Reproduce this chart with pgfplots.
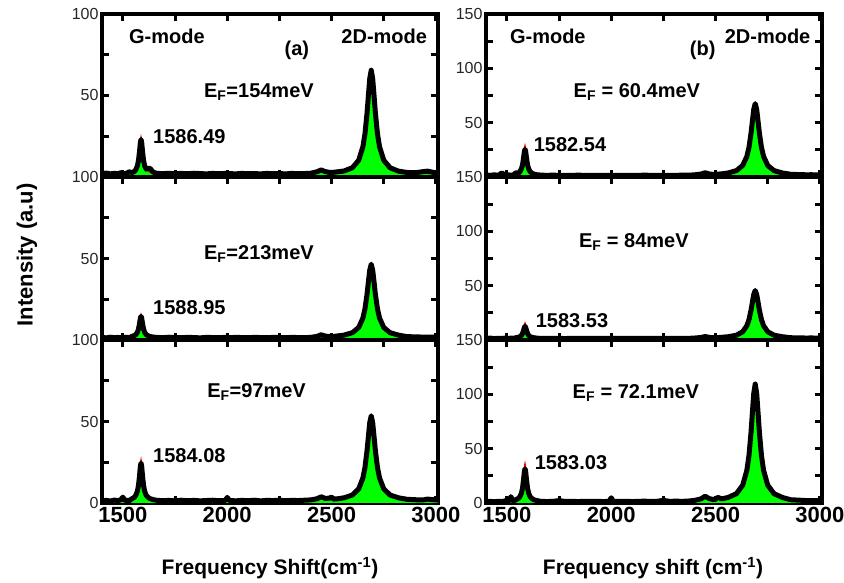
\documentclass[border=0pt]{standalone}
\usepackage{fontspec}
\setmainfont{Liberation Sans}
\usepackage{pgfplots}
\pgfplotsset{compat=1.18}
\usepackage{pgfplotstable}

% measured spectra (a1..a3 left column top->bottom, b1..b3 right column)
\pgfplotstableread{
x a1 a2 a3 b1 b2 b3
1400 2.1 1.6 1.3 1.8 1.4 1.2
1420 2.4 1.3 1.6 1.5 1.7 1.5
1440 1.9 1.7 1.2 2.0 1.3 1.1
1460 2.3 1.4 1.8 1.6 1.6 1.6
1476 2.0 1.6 1.4 3.8 1.4 1.3
1490 2.6 1.3 2.0 1.7 1.7 1.9
1500 2.2 1.8 3.6 1.5 1.5 1.6
1510 2.0 1.5 1.5 1.9 1.4 2.0
1519 2.4 1.6 1.7 1.6 1.8 5.8
1530 3.2 1.4 1.4 1.8 1.5 1.8
1543 2.7 2.2 2.6 3.9 2.1 3.0
1555 3.4 2.7 3.5 3.6 2.5 4.2
1562 4.5 3.3 4.7 4.8 3.0 5.6
1570 7.0 4.8 7.4 7.7 4.3 9.2
1575 10.3 6.8 10.9 11.3 6.0 13.8
1580 15.9 10.2 16.9 17.6 8.9 21.6
1584 21.3 13.5 22.7 23.6 11.6 29.1
1587 23.0 14.5 24.5 25.5 12.5 31.5
1590 21.3 13.5 22.7 23.6 11.6 29.1
1594 15.9 10.2 16.9 17.6 8.9 21.6
1599 10.3 6.8 10.9 11.3 6.0 13.8
1604 7.0 4.8 7.4 7.7 4.3 9.2
1612 4.8 3.3 4.7 4.8 3.0 5.6
1624 5.5 2.4 3.1 3.1 2.3 3.5
1632 5.0 2.1 2.6 2.6 2.0 2.8
1645 3.0 1.8 2.1 2.0 1.7 2.2
1660 2.3 1.6 1.7 1.8 1.5 1.6
1690 2.0 1.4 1.4 1.5 1.6 1.3
1720 2.3 1.7 1.6 1.7 1.4 1.5
1750 1.9 1.5 1.3 1.5 1.5 2.2
1780 2.2 1.4 1.7 1.6 1.3 1.4
1810 2.0 1.6 1.4 1.4 1.6 1.6
1840 2.3 1.5 1.6 1.7 1.5 1.3
1870 2.1 1.3 1.3 1.5 1.4 1.5
1900 1.9 1.6 1.5 1.6 1.6 1.4
1930 2.2 1.5 1.7 1.4 1.5 1.6
1960 2.0 1.4 1.4 1.6 1.4 1.3
1990 2.2 1.6 1.5 1.5 1.6 1.5
2000 2.0 1.5 3.4 1.7 1.5 4.8
2010 2.1 1.4 1.6 1.5 1.4 1.6
2040 1.9 1.6 1.3 1.6 1.6 1.4
2070 2.2 1.5 1.6 1.4 1.5 1.6
2100 2.0 1.4 1.4 1.6 1.4 1.3
2130 2.1 1.6 1.7 1.5 1.6 1.5
2160 1.9 1.5 1.3 1.7 1.5 1.7
2190 2.2 1.4 1.6 1.5 1.4 1.4
2220 2.0 1.6 1.5 1.6 1.5 1.6
2250 2.1 1.5 1.7 1.4 1.6 2.4
2280 1.9 1.4 1.4 1.6 1.4 1.5
2310 2.2 1.6 1.6 1.5 1.5 1.7
2340 2.0 1.5 1.5 1.7 1.6 1.5
2370 2.1 1.4 1.7 1.6 1.5 1.8
2400 2.3 1.6 1.9 2.0 1.8 2.4
2430 3.2 2.2 2.6 2.7 2.3 3.8
2450 4.3 3.2 3.8 3.9 3.2 6.2
2470 3.3 2.4 2.8 2.8 2.4 4.0
2490 2.8 2.1 3.0 2.4 2.1 3.2
2500 2.9 2.2 3.6 2.6 2.2 3.4
2510 2.9 2.2 2.4 2.6 2.2 5.2
2530 3.2 2.5 2.6 2.9 2.5 3.8
2560 3.7 3.0 3.2 3.7 3.0 5.1
2600 5.7 4.5 4.9 5.9 4.4 8.6
2630 10.3 7.7 8.7 10.6 7.6 16.4
2650 18.5 13.4 15.3 19.0 13.2 30.1
2660 26.5 19.1 21.8 27.2 18.7 43.6
2670 39.3 28.1 32.2 40.4 27.5 65.2
2677 50.8 36.2 41.5 52.3 35.4 84.7
2683 60.4 42.9 49.3 62.2 42.0 100.9
2690 65.5 46.5 53.5 67.5 45.5 109.5
2697 60.4 42.9 49.3 62.2 42.0 100.9
2703 50.8 36.2 41.5 52.3 35.4 84.7
2710 39.3 28.1 32.2 40.4 27.5 65.2
2720 26.5 19.1 21.8 27.2 18.7 43.6
2730 18.5 13.4 15.3 19.0 13.2 30.1
2750 10.3 7.7 8.7 10.6 7.6 16.4
2780 5.7 4.5 4.9 5.9 4.4 8.6
2820 3.6 3.0 3.2 3.7 3.0 5.1
2860 2.8 2.1 2.3 2.5 2.1 3.0
2900 2.6 1.9 2.0 2.2 1.9 2.6
2940 3.3 1.8 1.9 2.0 1.8 2.2
2960 3.6 1.7 2.4 2.1 1.9 2.3
2980 3.0 1.8 2.1 1.9 1.7 2.1
3010 2.4 1.7 1.8 2.0 1.8 2.0
}\spec

% Lorentzian fits
\pgfplotstableread{
x a1 a2 a3 b1 b2 b3
1400 1.57 1.05 1.08 1.09 1.05 1.11
1450 1.62 1.08 1.13 1.14 1.08 1.18
1500 1.81 1.2 1.34 1.37 1.2 1.47
1530 2.2 1.45 1.78 1.86 1.45 2.08
1550 3.1 2.0 2.77 2.94 2.0 3.45
1562 4.74 3.07 4.59 4.93 3.07 5.97
1570 7.54 4.86 7.68 8.32 4.86 10.25
1575 11.1 7.15 11.66 12.7 7.15 15.76
1580 17.2 11.05 18.4 20.1 11.05 25.1
1584 23.1 14.8 24.9 27.2 14.8 34.1
1587 25.0 16.0 27.0 29.5 16.0 37.0
1590 23.1 14.8 24.9 27.2 14.8 34.1
1594 17.2 11.05 18.4 20.1 11.05 25.1
1599 11.1 7.15 11.66 12.7 7.15 15.76
1604 7.54 4.86 7.68 8.32 4.86 10.25
1612 4.74 3.07 4.59 4.93 3.07 5.97
1624 3.1 2.0 2.77 2.94 2.0 3.45
1644 2.2 1.45 1.78 1.86 1.45 2.08
1680 1.76 1.17 1.29 1.31 1.17 1.4
1750 1.6 1.06 1.1 1.11 1.06 1.14
1900 1.55 1.04 1.05 1.06 1.04 1.1
2100 1.61 1.08 1.09 1.11 1.08 1.18
2300 1.74 1.17 1.2 1.25 1.17 1.41
2400 2.11 1.43 1.52 1.62 1.42 2.06
2430 2.76 1.92 2.16 2.27 1.91 3.35
2450 4.13 2.95 3.51 3.65 2.94 6.07
2470 2.98 2.07 2.33 2.5 2.06 3.71
2500 2.67 1.83 1.99 2.21 1.81 3.03
2560 3.61 2.49 2.72 3.18 2.45 4.56
2600 5.72 3.97 4.43 5.36 3.9 8.13
2630 10.3 7.21 8.18 10.1 7.07 15.9
2650 18.5 12.9 14.8 18.5 12.7 29.6
2660 26.5 18.6 21.3 26.7 18.2 43.1
2670 39.3 27.6 31.7 39.9 27.0 64.7
2677 50.8 35.7 41.0 51.8 34.9 84.2
2683 60.4 42.4 48.8 61.7 41.5 100.4
2690 65.5 46.0 53.0 67.0 45.0 109.0
2697 60.4 42.4 48.8 61.7 41.5 100.4
2703 50.8 35.7 41.0 51.8 34.9 84.2
2710 39.3 27.6 31.7 39.9 27.0 64.7
2720 26.5 18.6 21.3 26.7 18.2 43.1
2730 18.5 12.9 14.8 18.5 12.7 29.6
2750 10.3 7.21 8.18 10.1 7.07 15.9
2780 5.72 3.97 4.43 5.36 3.9 8.13
2820 3.61 2.49 2.72 3.18 2.45 4.56
2900 2.33 1.58 1.67 1.85 1.57 2.39
3010 1.86 1.25 1.29 1.37 1.25 1.6
}\fit

\pgfplotsset{
  panel/.style={
    scale only axis, width=336pt, height=163pt,
    xmin=1400, xmax=3010,
    axis line style={line width=4pt},
    tick align=inside,
    major tick length=7pt, minor tick length=7pt,
    tick style={line width=3pt, black},
    xtick={1500,2000,2500,3000}, minor xtick={1750,2250,2750},
    xticklabels={},
    /pgf/number format/assume math mode=true,
    /pgf/number format/1000 sep={},
    yticklabel style={font=\fontsize{16}{16}\selectfont, text=black!85},
    xticklabel style={font=\bfseries\fontsize{22}{22}\selectfont, yshift=-1pt},
  },
  colA/.style={panel, ymin=0, ymax=100, ytick={0,50,100}, minor ytick={25,75}},
  colB/.style={panel, ymin=0, ymax=150, ytick={0,50,100,150}, minor ytick={25,75,125}},
}
\tikzset{lab/.style={font=\bfseries\fontsize{20}{20}\selectfont}}

\newcommand{\spectrum}[1]{%
  \addplot[draw=none, fill=green] table[x=x, y=#1]{\fit} \closedcycle;
  \addplot[red, line width=1pt] table[x=x, y=#1]{\fit};
  \addplot[black, line width=5pt, line join=round] table[x=x, y=#1]{\spec};
}

\begin{document}
\begin{tikzpicture}
\useasboundingbox (0,0) rectangle (844pt,583pt);

% ---- left column (a)
\begin{axis}[colA, at={(102pt,406pt)}, anchor=south west, yticklabels={{},50,100}]
\spectrum{a1}
\node[lab] at (rel axis cs:0.193,0.86) {G-mode};
\node[lab] at (rel axis cs:0.58,0.78) {(a)};
\node[lab] at (rel axis cs:0.84,0.86) {2D-mode};
\node[lab] at (rel axis cs:0.467,0.52) {E\textsubscript{F}=154meV};
\node[lab] at (rel axis cs:0.26,0.25) {1586.49};
\end{axis}

\begin{axis}[colA, at={(102pt,243pt)}, anchor=south west, yticklabels={{},50,100}]
\spectrum{a2}
\node[lab] at (rel axis cs:0.467,0.53) {E\textsubscript{F}=213meV};
\node[lab] at (rel axis cs:0.26,0.2) {1588.95};
\end{axis}

\begin{axis}[colA, at={(102pt,80pt)}, anchor=south west, yticklabels={0,50,100},
  xticklabels={1500,2000,2500,3000}]
\spectrum{a3}
\node[lab] at (rel axis cs:0.46,0.68) {E\textsubscript{F}=97meV};
\node[lab] at (rel axis cs:0.26,0.29) {1584.08};
\end{axis}

% ---- right column (b)
\begin{axis}[colB, at={(486pt,406pt)}, anchor=south west, yticklabels={{},50,100,150}]
\spectrum{b1}
\node[lab] at (rel axis cs:0.184,0.86) {G-mode};
\node[lab] at (rel axis cs:0.645,0.78) {(b)};
\node[lab] at (rel axis cs:0.838,0.86) {2D-mode};
\node[lab] at (rel axis cs:0.449,0.52) {E\textsubscript{F} = 60.4meV};
\node[lab] at (rel axis cs:0.25,0.2) {1582.54};
\end{axis}

\begin{axis}[colB, at={(486pt,243pt)}, anchor=south west, yticklabels={{},50,100,150}]
\spectrum{b2}
\node[lab] at (rel axis cs:0.44,0.6) {E\textsubscript{F} = 84meV};
\node[lab] at (rel axis cs:0.256,0.117) {1583.53};
\end{axis}

\begin{axis}[colB, at={(486pt,80pt)}, anchor=south west, yticklabels={0,50,100,150},
  xticklabels={1500,2000,2500,3000}]
\spectrum{b3}
\node[lab] at (rel axis cs:0.446,0.675) {E\textsubscript{F} = 72.1meV};
\node[lab] at (rel axis cs:0.253,0.245) {1583.03};
\end{axis}

% ---- axis titles
\node[rotate=90, font=\bfseries\fontsize{22}{22}\selectfont] at (27pt,328pt) {Intensity (a.u)};
\node[font=\bfseries\fontsize{21}{21}\selectfont] at (270pt,15pt) {Frequency Shift(cm\textsuperscript{-1})};
\node[font=\bfseries\fontsize{21}{21}\selectfont] at (653pt,15pt) {Frequency shift (cm\textsuperscript{-1})};
\end{tikzpicture}
\end{document}
